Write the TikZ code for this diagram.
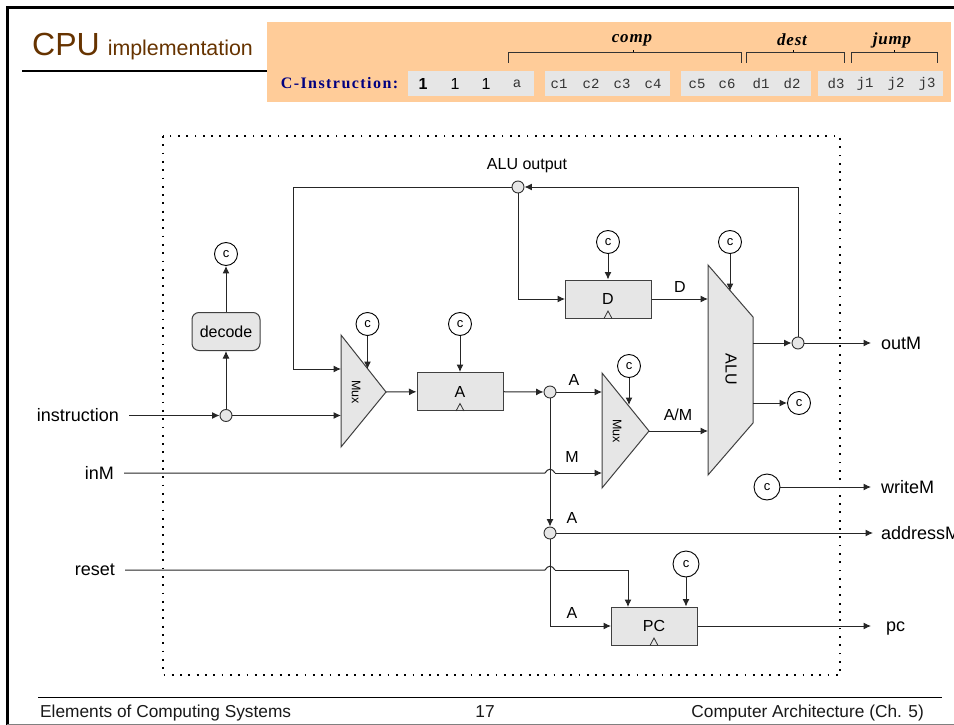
\documentclass[tikz,border=0pt]{standalone}
\usepackage{fontspec}
\setmainfont{Liberation Sans}
\newfontfamily\bitfont{Liberation Mono}
\newfontfamily\capfont{Liberation Serif}[LetterSpace=9]
\newfontfamily\fieldfont{Liberation Serif}[LetterSpace=5]
\usetikzlibrary{calc,arrows.meta}
\definecolor{slidebrown}{HTML}{663300}
\definecolor{bandorange}{HTML}{FFCC99}
\definecolor{partgray}{HTML}{E6E6E6}
\definecolor{capnavy}{HTML}{000080}
\tikzset{
    wire/.style={line width=1pt, black!85},
    flow/.style={wire, -{Latex[length=7.5pt,width=7pt]}},
    part/.style={draw=black!75, line width=1pt, fill=partgray},
    regbox/.style={part, minimum width=86pt, minimum height=38pt, inner sep=0pt, font=\fontsize{16}{16}\selectfont},
    clock/.style={circle, draw=black, line width=0.9pt, fill=white, minimum size=23pt, inner sep=0pt, font=\fontsize{13}{13}\selectfont},
    jct/.style={circle, draw=black!80, line width=0.9pt, fill=partgray, minimum size=12pt, inner sep=0pt},
    sig/.style={font=\fontsize{16}{16}\selectfont, inner sep=0pt},
    pin/.style={font=\fontsize{18}{18}\selectfont, inner sep=0pt},
    bit/.style={font=\bitfont\fontsize{14}{14}\selectfont, inner sep=0pt, black!80},
    onebit/.style={font=\fontsize{16}{16}\selectfont, inner sep=0pt},
    foot/.style={font=\fontsize{17.3}{18}\selectfont, inner sep=0pt, black!90},
}
\newcommand{\hump}[1]{([xshift=-5pt]#1) .. controls ([xshift=-2pt,yshift=5pt]#1) and ([xshift=2pt,yshift=5pt]#1) .. ([xshift=5pt]#1)}
\begin{document}
\begin{tikzpicture}[x=1pt,y=-1pt]
    \useasboundingbox (0,0) rectangle (954,725);
    \clip (0,0) rectangle (954,725);

    % Slide frame and title
    \draw[line width=3pt] (7,725) -- (7,8) -- (954,8);
    \draw[line width=0.8pt, black!50] (7,724) -- (954,724);
    \draw[line width=2pt] (22,71) -- (275,71);
    \node[anchor=base west, inner sep=0pt, text=slidebrown] (title) at (32,56)
        {\fontsize{32}{32}\selectfont CPU\hspace{8pt}\fontsize{21.4}{22}\selectfont implementation};

    % Instruction band
    \fill[bandorange] (267,22) rectangle (951,102);
    \foreach \xa/\xb in {408/534, 545/670, 681/811, 818/943}
        \fill[partgray] (\xa,71) rectangle (\xb,96);
    \node[font=\capfont\bfseries\fontsize{16}{16}\selectfont, text=capnavy, inner sep=0pt] (capC) at (339.5,83.5) {C-Instruction:};
    \node[onebit] (bitOne) at (423,83.5) {\textbf{1}};
    \node[onebit] (bitTwo) at (455,83.5) {1};
    \node[onebit] (bitThree) at (486,83.5) {1};
    \foreach \name/\xpos in {a/517, c1/559, c2/591, c3/622, c4/653, c5/697, c6/727, d1/761, d2/792, d3/836, j1/865, j2/896, j3/927}
        \node[bit] (bit\name) at (\xpos,84) {\name};
    \foreach \field/\xa/\xb/\xt/\xl in {comp/508/741/633/632, dest/746/844/793/792, jump/851/937/894/892} {
        \draw[line width=0.8pt, black!80] (\xa,63) -- (\xa,52) -- (\xb,52) -- (\xb,63);
        \draw[line width=0.8pt] (\xt,52) -- (\xt,50.5);
        \node[font=\fieldfont\bfseries\itshape\fontsize{17}{17}\selectfont, inner sep=0pt] (lab\field) at (\xl,40) {\field};
    }

    % Chip boundary
    \draw[line width=1.3pt, dash pattern=on 1.8pt off 6.5pt] (163,136) rectangle (840,675);

    % Parts
    \node[regbox] (regD) at (608,299) {D};
    \node[regbox] (regA) at (460,391.5) {A};
    \node[regbox] (regPC) at (654,626) {PC};
    \foreach \reg in {regD,regA,regPC}
        \draw[line width=0.8pt, black!80] ($(\reg.south)+(-4,0)$) -- ($(\reg.south)+(0,-7.5)$) -- ($(\reg.south)+(4,0)$);
    \node[part, rounded corners=7pt, minimum width=68pt, minimum height=38pt, inner sep=0pt, font=\fontsize{16}{16}\selectfont] (decode) at (226,331.5) {decode};
    \draw[part] (341,335) -- (386,392) -- (341,447) -- cycle;
    \draw[part] (602,373) -- (649,431) -- (602,488) -- cycle;
    \draw[part] (708,265) -- (753,317) -- (753,423) -- (708,475) -- cycle;
    \node[rotate=-90, font=\fontsize{12.5}{13}\selectfont, inner sep=0pt] (muxA) at (356,392) {Mux};
    \node[rotate=-90, font=\fontsize{12.5}{13}\selectfont, inner sep=0pt] (muxB) at (617,431) {Mux};
    \node[rotate=-90, font=\fontsize{16}{16}\selectfont, inner sep=0pt] (alu) at (731,369) {ALU};

    % Clock bubbles
    \node[clock] (cDecode) at (226,254) {c};
    \node[clock] (cMuxA) at (367.5,324) {c};
    \node[clock] (cRegA) at (460,324) {c};
    \node[clock] (cRegD) at (608,242) {c};
    \node[clock] (cAlu) at (730,242) {c};
    \node[clock] (cMuxB) at (629,366) {c};
    \node[clock] (cFlag) at (799,403) {c};
    \node[clock, minimum size=26pt] (cWrite) at (767,487) {c};
    \node[clock, minimum size=26pt] (cPC) at (686,564) {c};

    % Junctions
    \node[jct] (jctIn) at (226,415.5) {};
    \node[jct] (jctAluOut) at (518,187) {};
    \node[jct] (jctOut) at (798,343) {};
    \node[jct] (jctA) at (550,392) {};
    \node[jct] (jctAddr) at (550,533) {};

    % Pins and signal names
    \node[pin, anchor=east] (instruction) at (119,415.5) {instruction};
    \node[pin, anchor=east] (inM) at (114,473) {inM};
    \node[pin, anchor=east] (reset) at (115,570) {reset};
    \node[pin, anchor=west] (outM) at (881,343) {outM};
    \node[pin, anchor=west] (writeM) at (881,487) {writeM};
    \node[pin, anchor=west] (addressM) at (881,533) {addressM};
    \node[pin, anchor=west] (pc) at (886,628.5) {pc};
    \node[sig] (labAluOut) at (527,166) {ALU output};
    \node[sig] (labD) at (680,287) {D};
    \node[sig] (labA) at (574,380) {A};
    \node[sig] (labM) at (572,457) {M};
    \node[sig] (labAM) at (678,415) {A/M};
    \node[sig] (labAddr) at (572,518) {A};
    \node[sig] (labPC) at (572,613) {A};

    % Free ends
    \coordinate (muxAfb) at (341,369);
    \coordinate (muxAin) at (341,415.5);
    \coordinate (muxAclk) at (367.5,369);
    \coordinate (muxAout) at (386,392);
    \coordinate (muxBa) at (602,392);
    \coordinate (muxBm) at (602,473);
    \coordinate (muxBclk) at (629,405);
    \coordinate (muxBout) at (649,431);
    \coordinate (aluD) at (708,299);
    \coordinate (aluAM) at (708,431);
    \coordinate (aluClk) at (730,291);
    \coordinate (aluOut) at (753,343);
    \coordinate (aluFlag) at (753,403);
    \coordinate (fbCorner) at (293,187);
    \coordinate (regDin) at (565,299);
    \coordinate (regPCa) at (611,626);
    \coordinate (regPCr) at (628,607);
    \coordinate (humpM) at (550,473);
    \coordinate (humpR) at (550,570);
    \coordinate (pinStartIn) at (129,415.5);
    \coordinate (pinStartM) at (124,473);
    \coordinate (pinStartR) at (125,570);
    \coordinate (pinOutM) at (871,343);
    \coordinate (pinWrite) at (871,487);
    \coordinate (pinAddr) at (873,533);
    \coordinate (pinPC) at (871,626);

    % Clock wires
    \draw[flow] (jctIn) -- (decode);
    \draw[flow] (decode) -- (cDecode);
    \draw[flow] (cMuxA) -- (muxAclk);
    \draw[flow] (cRegA) -- (regA);
    \draw[flow] (cRegD) -- (regD);
    \draw[flow] (cAlu) -- (aluClk);
    \draw[flow] (cMuxB) -- (muxBclk);
    \draw[flow] (cPC) -- (cPC |- regPC.north);
    \draw[flow] (aluFlag) -- (cFlag);
    \draw[flow] (cWrite) -- (pinWrite);

    % Data wires
    \draw[flow] (pinStartIn) -- (jctIn);
    \draw[flow] (jctIn) -- (muxAin);
    \draw[flow] (jctAluOut) -- (fbCorner) |- (muxAfb);
    \draw[flow] (jctAluOut) |- (regDin);
    \draw[flow] (muxAout) -- (regA);
    \draw[flow] (regA) -- (jctA);
    \draw[flow] (jctA) -- (muxBa);
    \draw[flow] (muxBout) -- (aluAM);
    \draw[flow] (regD) -- (aluD);
    \draw[flow] (aluOut) -- (jctOut);
    \draw[flow] (jctOut) -- (pinOutM);
    \draw[flow] (jctOut) |- (jctAluOut);
    \draw[flow] (jctA) -- (jctAddr);
    \draw[flow] (jctAddr) -- (pinAddr);
    \draw[flow] (jctAddr) |- (regPCa);
    \draw[flow] (regPC) -- (pinPC);
    \draw[wire] (pinStartM) -- \hump{humpM};
    \draw[flow] ([xshift=5pt]humpM) -- (muxBm);
    \draw[wire] (pinStartR) -- \hump{humpR};
    \draw[flow] ([xshift=5pt]humpR) -| (regPCr);

    % Footer
    \draw[line width=0.9pt] (38,697) -- (942,697);
    \node[foot, anchor=west] (footL) at (40,713) {Elements of Computing Systems};
    \node[foot] (footN) at (485,712) {17};
    \node[foot, anchor=east] (footR) at (924,713) {Computer Architecture (Ch. 5)};
\end{tikzpicture}
\end{document}
